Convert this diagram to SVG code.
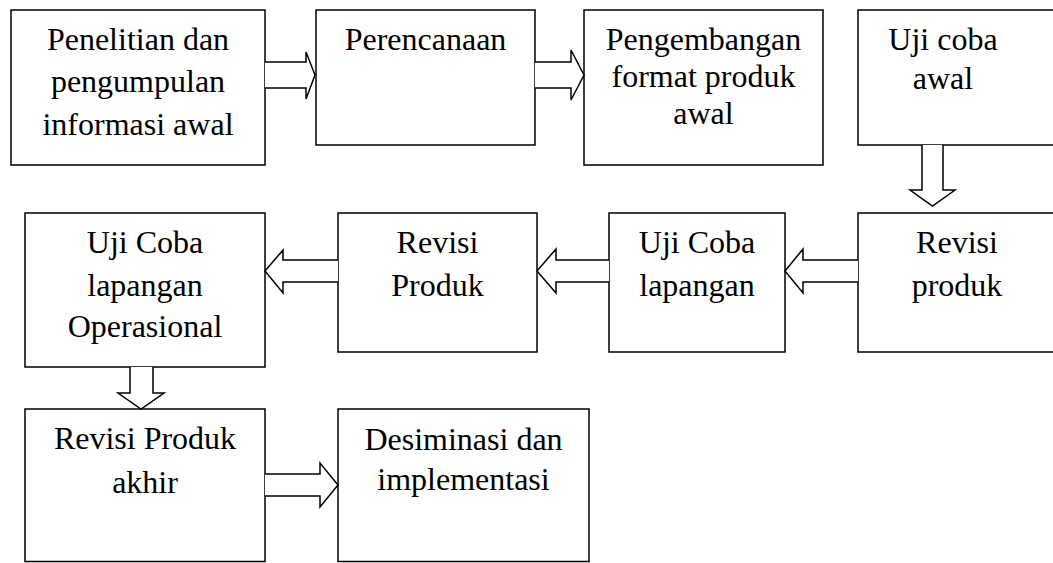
<svg xmlns="http://www.w3.org/2000/svg" width="1053" height="563" viewBox="0 0 1053 563">
<style>
.box{fill:#fff;stroke:#000;stroke-width:1.5}
.arr{fill:#fff;stroke:#000;stroke-width:1.5;stroke-linejoin:miter}
.t text{font-family:"Liberation Serif","Times New Roman",serif;font-size:32px;fill:#000;text-anchor:middle}
</style>
<rect width="1053" height="563" fill="#fff"/>
<g class="t">
<g id="n1"><rect class="box" x="11" y="10" width="254" height="155"/><text x="138" y="50">Penelitian dan</text><text x="138" y="92">pengumpulan</text><text x="138" y="135">informasi awal</text></g>
<g id="n2"><rect class="box" x="316" y="10" width="219" height="135"/><text x="425.5" y="50">Perencanaan</text></g>
<g id="n3"><rect class="box" x="584" y="10" width="239" height="155"/><text x="703.5" y="50">Pengembangan</text><text x="703.5" y="87">format produk</text><text x="703.5" y="124">awal</text></g>
<g id="n4"><rect class="box" x="858" y="10" width="220" height="135"/><text x="943" y="50">Uji coba</text><text x="943" y="89">awal</text></g>
<g id="n5"><rect class="box" x="858" y="213" width="220" height="139"/><text x="957" y="253">Revisi</text><text x="957" y="296">produk</text></g>
<g id="n6"><rect class="box" x="609" y="213" width="176" height="139"/><text x="697" y="253">Uji Coba</text><text x="697" y="296">lapangan</text></g>
<g id="n7"><rect class="box" x="338" y="213" width="199" height="139"/><text x="437.5" y="253">Revisi</text><text x="437.5" y="296">Produk</text></g>
<g id="n8"><rect class="box" x="25" y="213" width="240" height="154"/><text x="145" y="253">Uji Coba</text><text x="145" y="296">lapangan</text><text x="145" y="337">Operasional</text></g>
<g id="n9"><rect class="box" x="25" y="409" width="240" height="152.5"/><text x="145" y="449">Revisi Produk</text><text x="145" y="493">akhir</text></g>
<g id="n10"><rect class="box" x="338" y="409" width="251" height="152.5"/><text x="463.5" y="450">Desiminasi dan</text><text x="463.5" y="490">implementasi</text></g>
</g>
<g id="connectors">
<polyline class="arr" points="265,62 306,62 306,52 315,75 306,99 306,88 265,88"/>
<polyline class="arr" points="535,62 571,62 571,50 584,75 571,100 571,88 535,88"/>
<polyline class="arr" points="922,145 922,190 910,190 932.5,206 955,190 943,190 943,145"/>
<polyline class="arr" points="858,260 803,260 803,249 785,271 803,293 803,282 858,282"/>
<polyline class="arr" points="609,260 556,260 556,249 537,271 556,293 556,282 609,282"/>
<polyline class="arr" points="338,260 283,260 283,250 265,271 283,293 283,282 338,282"/>
<polyline class="arr" points="130,367 130,393 118,393 141,409 164,393 153,393 153,367"/>
<polyline class="arr" points="265,474 320,474 320,463 338,485 320,507 320,496 265,496"/>
</g>
</svg>
